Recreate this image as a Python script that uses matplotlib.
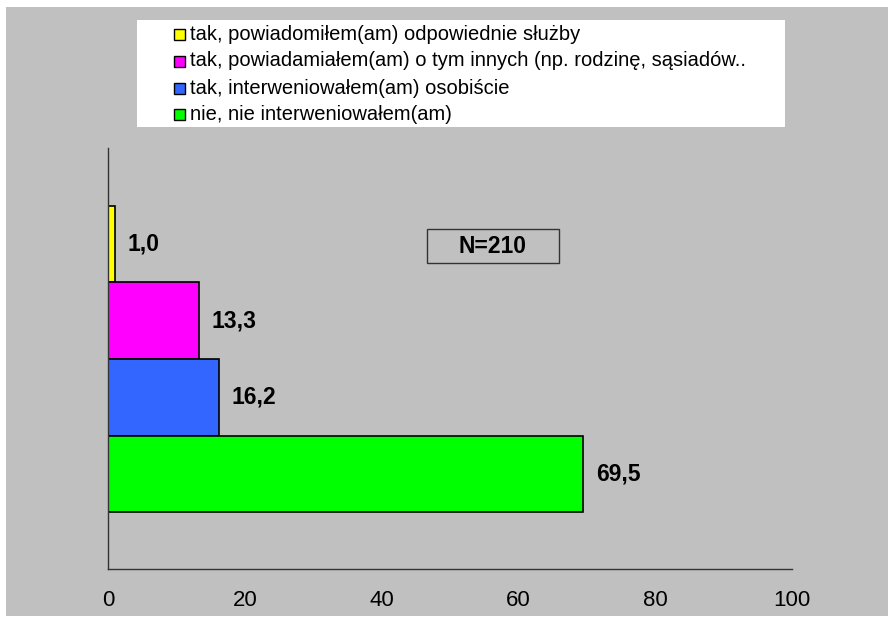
import matplotlib
matplotlib.use('Agg')
import matplotlib.pyplot as plt
from matplotlib.patches import Rectangle

plt.rcParams['font.family'] = ['Liberation Sans', 'DejaVu Sans']

# dane (kolejność od góry)
labels = ['tak, powiadomiłem(am) odpowiednie służby',
          'tak, powiadamiałem(am) o tym innych (np. rodzinę, sąsiadów..',
          'tak, interweniowałem(am) osobiście',
          'nie, nie interweniowałem(am)']
values = [1.0, 13.3, 16.2, 69.5]
colors = ['#FFFF00', '#FF00FF', '#3366FF', '#00FF00']
x_ticks = [0, 20, 40, 60, 80, 100]
n_text = 'N=210'

W, H = 892, 617


def fx(px):
    return px / W


def fy(py):
    return 1 - py / H


fig = plt.figure(figsize=(W / 100, H / 100), dpi=100, facecolor='white')

# szare tlo
fig.patches.append(Rectangle((fx(6), fy(616)), fx(888) - fx(6), fy(7) - fy(616),
                             transform=fig.transFigure, facecolor='#C0C0C0',
                             edgecolor='none', zorder=-10))

ax = fig.add_axes([fx(108), fy(569), fx(792) - fx(108), fy(148) - fy(569)])
ax.set_facecolor('none')

n = len(values)
for i, (v, c) in enumerate(zip(values, colors)):
    pos = n - 1 - i
    ax.barh(pos, v, height=1, align='edge', color=c, edgecolor='black', linewidth=1.2)
    ax.annotate(f'{v:.1f}'.replace('.', ','), xy=(v, pos + 0.5), xytext=(9, 0),
                textcoords='offset points', va='center', ha='left',
                fontsize=16.5, fontweight='bold')

ax.set_xlim(0, 100)
ax.set_ylim(-0.745, 4.758)
ax.set_xticks(x_ticks)
ax.set_xticklabels([str(t) for t in x_ticks], fontsize=16)
ax.set_yticks([])
ax.tick_params(axis='x', length=0, pad=15)
for s in ['top', 'right']:
    ax.spines[s].set_visible(False)
for s in ['left', 'bottom']:
    ax.spines[s].set_color('#333333')
    ax.spines[s].set_linewidth(1.0)

# legenda
fig.patches.append(Rectangle((fx(137), fy(127)), fx(785) - fx(137), fy(20) - fy(127),
                             transform=fig.transFigure, facecolor='white',
                             edgecolor='none', zorder=1))
row_y = [34, 61, 88, 114]
for lab, c, ry in zip(labels, colors, row_y):
    fig.patches.append(Rectangle((fx(174), fy(ry + 5.5)), fx(11), 11 / H,
                                 transform=fig.transFigure, facecolor=c,
                                 edgecolor='black', linewidth=1.0, zorder=2))
    fig.text(fx(190), fy(ry + 5.5), lab, fontsize=14.5, va='baseline', ha='left', zorder=3)

# ramka N
fig.patches.append(Rectangle((fx(427), fy(263)), fx(559) - fx(427), fy(229) - fy(263),
                             transform=fig.transFigure, facecolor='none',
                             edgecolor='#333333', linewidth=1.0, zorder=2))
fig.text(fx(493), fy(246), n_text, fontsize=16.5, fontweight='bold',
         va='center', ha='center')

plt.savefig('out.png', dpi=100)
